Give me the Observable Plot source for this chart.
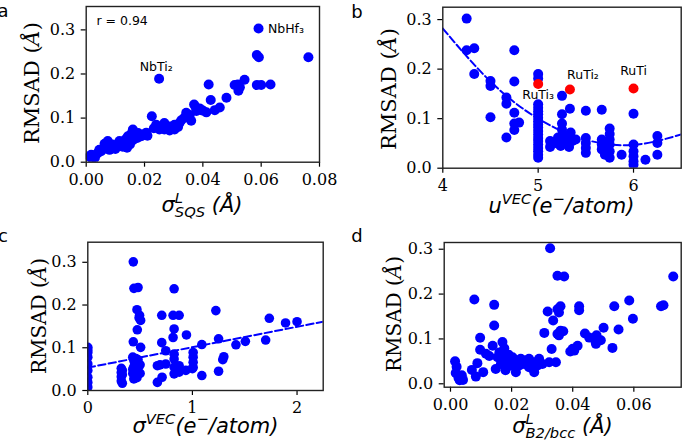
<!DOCTYPE html>
<html><head><meta charset="utf-8">
<script src="https://cdn.jsdelivr.net/npm/d3@7"></script>
<script src="https://cdn.jsdelivr.net/npm/@observablehq/plot@0.6"></script>
<style>
body{margin:0;background:#fff;}
#fig{position:relative;width:685px;height:443px;overflow:hidden;background:#fff}
#fig svg{position:absolute;overflow:visible}
</style></head><body><div id="fig"></div>
<script>
// ---- Panel a: RMSAD vs sigma^L_SQS ----
const aPoints = [[0.0591,0.303],[0.0585,0.243],[0.0592,0.238],[0.0762,0.238],[0.0250,0.189],[0.0420,0.176],[0.0543,0.187],[0.0509,0.175],[0.0520,0.176],[0.0527,0.170],[0.0522,0.162],[0.0585,0.175],[0.0600,0.175],[0.0632,0.176],[0.0427,0.141],[0.0481,0.146],[0.0458,0.124],[0.0441,0.118],[0.0370,0.131],[0.0375,0.125],[0.0389,0.122],[0.0400,0.117],[0.0378,0.116],[0.0412,0.113],[0.0343,0.112],[0.0355,0.107],[0.0337,0.101],[0.0326,0.095],[0.0360,0.094],[0.0225,0.104],[0.0240,0.085],[0.0268,0.089],[0.0286,0.081],[0.0303,0.085],[0.0320,0.089],[0.0315,0.080],[0.0251,0.074],[0.0268,0.074],[0.0286,0.072],[0.0303,0.074],[0.0232,0.077],[0.0206,0.067],[0.0189,0.059],[0.0172,0.056],[0.0160,0.074],[0.0155,0.065],[0.0143,0.059],[0.0149,0.047],[0.0131,0.040],[0.0114,0.048],[0.0109,0.036],[0.0097,0.032],[0.0080,0.028],[0.0074,0.048],[0.0063,0.042],[0.0069,0.032],[0.0051,0.025],[0.0040,0.021],[0.0017,0.017],[0.0011,0.013],[0.0020,0.008],[0.0120,0.045],[0.0135,0.052],[0.0165,0.062],[0.0178,0.066],[0.0195,0.063],[0.0210,0.060],[0.0125,0.035],[0.0090,0.040],[0.0100,0.030],[0.0060,0.030],[0.0035,0.018],[0.0150,0.040],[0.0160,0.050],[0.0175,0.055],[0.0140,0.033],[0.0030,0.010],[0.0045,0.028]];
const aStartLabels = [["NbHf\u2083",0.0623,0.293],["r = 0.94",0.0035,0.310]];
const aMidLabels = [["NbTi\u2082",0.0240,0.206]];
const aXTicks = [0,0.02,0.04,0.06,0.08];
const rmsadTicks = [0,0.1,0.2,0.3];

// ---- Panel b: RMSAD vs u^VEC ----
const bPoints = [[4.25,0.302],[4.25,0.238],[4.33,0.242],[4.75,0.238],[4.33,0.190],[4.5,0.176],[4.5,0.166],[4.75,0.175],[4.5,0.103],[4.667,0.1425],[4.667,0.130],[4.75,0.112],[4.75,0.090],[4.8,0.092],[4.75,0.077],[4.667,0.062],
[5,0.190],[5,0.181],[5,0.129],[5,0.122],[5,0.115],[5,0.109],[5,0.102],[5,0.095],[5,0.088],[5,0.082],[5,0.075],[5,0.068],[5,0.061],[5,0.055],[5,0.048],[5,0.041],[5,0.034],[5,0.027],[5,0.021],
[5.25,0.146],[5.333,0.120],[5.5,0.116],[5.667,0.118],[6,0.110],[5.25,0.109],[5.25,0.090],[5.25,0.078],[5.75,0.080],[5.75,0.069],[5.125,0.055],[5.125,0.043],
[5.208,0.062],[5.254,0.068],[5.306,0.065],[5.341,0.072],[5.289,0.055],[5.359,0.055],[5.236,0.045],[5.324,0.043],[5.394,0.058],[5.2,0.050],
[5.5,0.061],[5.5,0.051],[5.5,0.041],[5.5,0.031],[5.667,0.058],[5.667,0.048],[5.667,0.038],[5.7,0.027],[5.75,0.058],[5.75,0.048],[5.75,0.034],[5.75,0.021],[5.875,0.027],[6,0.048],[6,0.034],[6,0.024],[6,0.014],[6,0.007],[6.125,0.017],[6.25,0.065],[6.25,0.051],[6.25,0.027]];
const bRed = [[5,0.170],[5.333,0.159],[6,0.161]];
const bLabels = [["RuTi\u2083",5.0,0.1405],["RuTi\u2082",5.47,0.1796],["RuTi",6.0,0.188]];
const bFit = [[4,0.282],[4.5,0.175],[5,0.100],[5.5,0.0575],[6,0.047],[6.5,0.068]];
const bXTicks = [4,5,6];

// ---- Panel c: RMSAD vs sigma^VEC ----
const cPoints = [[0.435,0.301],[0.441,0.239],[0.48,0.241],[0.825,0.238],[0.47,0.189],[0.495,0.176],[0.505,0.164],[0.49,0.170],[0.707,0.176],[0.815,0.176],[0.873,0.176],[1.224,0.187],[0.473,0.142],[0.825,0.144],[0.815,0.124],[0.943,0.130],[1.735,0.169],[1.89,0.158],[2.0,0.161],[0.435,0.114],[0.505,0.101],[0.707,0.112],[1.25,0.121],[1.09,0.1075],[1.416,0.107],[1.506,0.115],[1.70,0.118],[0.745,0.093],[0.825,0.085],[0.825,0.0735],[1.007,0.089],[1.007,0.078],[1.007,0.066],[1.007,0.054],[1.30,0.079],[1.29,0.072],
[0,0.101],[0,0.095],[0,0.089],[0,0.078],[0,0.062],[0,0.047],[0,0.031],[0,0.019],[0,0.008],
[0.32,0.052],[0.32,0.042],[0.32,0.032],[0.32,0.022],[0.33,0.017],[0.33,0.047],[0.33,0.037],
[0.43,0.078],[0.44,0.070],[0.45,0.063],[0.47,0.058],[0.44,0.055],[0.46,0.048],[0.48,0.045],[0.43,0.040],[0.45,0.035],[0.47,0.030],[0.44,0.027],[0.50,0.060],[0.50,0.040],[0.48,0.072],[0.43,0.050],[0.46,0.075],
[0.665,0.058],[0.745,0.062],[0.665,0.019],[0.71,0.031],[0.69,0.060],
[0.825,0.0545],[0.873,0.058],[0.825,0.039],[0.873,0.043],[0.937,0.047],[1.0,0.051],[1.09,0.035],[1.25,0.045]];
const cFit = [[0,0.0535],[2.25,0.161]];
const cXTicks = [0,1,2];

// ---- Panel d: RMSAD vs sigma^L_B2/bcc ----
const dPoints = [[0.0326,0.302],[0.0350,0.241],[0.0372,0.239],[0.0729,0.239],[0.0078,0.188],[0.0143,0.176],[0.0143,0.130],[0.0318,0.161],[0.0350,0.166],[0.0360,0.173],[0.0355,0.159],[0.0336,0.141],[0.0421,0.173],[0.0421,0.164],[0.0536,0.173],[0.0585,0.1855],[0.0597,0.145],[0.0689,0.173],[0.0697,0.175],[0.0307,0.1135],[0.0350,0.111],[0.0360,0.118],[0.0369,0.117],[0.0355,0.108],[0.0440,0.112],[0.0454,0.103],[0.0478,0.108],[0.0492,0.097],[0.0475,0.093],[0.0501,0.125],[0.0550,0.121],[0.0476,0.089],[0.0530,0.080],[0.0392,0.072],[0.0405,0.074],[0.0416,0.085],[0.0400,0.078],[0.0331,0.0775],[0.0097,0.1025],[0.0097,0.076],[0.0116,0.067],[0.0138,0.085],[0.0170,0.093],[0.0176,0.079],[0.0088,0.046],[0.0127,0.062],[0.0015,0.050],[0.0020,0.038],[0.0017,0.024],[0.0026,0.0136],[0.0037,0.019],[0.0041,0.0087],[0.0030,0.008],[0.0070,0.031],[0.0083,0.016],[0.0107,0.026],
[0.0148,0.033],[0.0165,0.044],[0.0170,0.056],[0.0187,0.048],[0.0203,0.059],[0.0214,0.052],[0.0214,0.026],[0.0230,0.056],[0.0241,0.044],[0.0257,0.056],[0.0257,0.037],[0.0274,0.048],[0.0274,0.026],[0.0290,0.056],[0.0301,0.044],[0.0323,0.048],[0.0345,0.048],[0.0181,0.037],[0.0197,0.041],[0.0225,0.041],[0.0154,0.059],[0.0247,0.052],[0.0285,0.041],[0.0180,0.030],[0.0160,0.070],[0.0190,0.065]];
const dXTicks = [0,0.02,0.04,0.06];

const BLUE = "#0000ff", RED = "#ff0000";
const fig = document.getElementById("fig");

function panel(o) {
  const svg = Plot.plot({
    width: o.width, height: o.height,
    marginLeft: o.mL, marginRight: o.mR, marginTop: o.mT, marginBottom: o.mB,
    style: {fontFamily: "DejaVu Serif", fontSize: "16px", color: "#000", background: "transparent", overflow: "visible"},
    x: {domain: o.xDomain},
    y: {domain: o.yDomain},
    marks: [
      Plot.axisX(o.xTicks, {tickFormat: o.xFmt, tickSize: 5, tickPadding: 6, label: null, strokeWidth: 1.2}),
      Plot.axisY(rmsadTicks, {tickFormat: ".1f", tickSize: 5, tickPadding: 6, label: null, strokeWidth: 1.2}),
      ...o.marks,
      Plot.frame({stroke: "#222", strokeWidth: 1.4})
    ]
  });
  svg.style.left = o.left + "px";
  svg.style.top = o.top + "px";
  fig.appendChild(svg);
  const s = d3.select(svg);
  s.append("text").attr("x", o.letterX).attr("y", o.letterY)
    .attr("font-family", "DejaVu Sans").attr("font-size", 18).attr("fill", "#000").text(o.letter);
  const yl = s.append("text")
    .attr("transform", `translate(${o.ylX},${o.ylY}) rotate(-90)`)
    .attr("text-anchor", "middle").attr("font-family", "DejaVu Serif")
    .attr("font-size", o.ylSize).attr("fill", "#000");
  yl.append("tspan").text("RMSAD (");
  yl.append("tspan").attr("font-style", "italic").text("\u00C5");
  yl.append("tspan").text(")");
  const xl = s.append("text").attr("x", o.xlX).attr("y", o.xlY)
    .attr("text-anchor", "middle").attr("font-family", "DejaVu Sans")
    .attr("font-style", "italic").attr("font-size", o.xlSize).attr("fill", "#000");
  o.xLabel(xl, o.xlSize);
  return svg;
}

const dot = (pts, fill, r) => Plot.dot(pts, {x: d => d[0], y: d => d[1], r, fill, stroke: "none", clip: true});
const note = (rows, anchor) => Plot.text(rows, {x: d => d[1], y: d => d[2], text: d => d[0], textAnchor: anchor, lineAnchor: "bottom", fontFamily: "DejaVu Sans", fontSize: 12.5, fill: "#000"});

function supSub(t, base, sup, sub, tail, fs) {
  const ss = fs * 0.7;
  t.append("tspan").text(base);
  t.append("tspan").attr("font-size", ss).attr("dy", -fs * 0.42).text(sup);
  t.append("tspan").attr("font-size", ss).attr("dx", -ss * 0.557 * sup.length).attr("dy", fs * 0.68).text(sub);
  t.append("tspan").attr("dy", -fs * 0.26).text(tail);
}
function supVEC(t, base, fs) {
  const ss = fs * 0.7;
  t.append("tspan").text(base);
  t.append("tspan").attr("font-size", ss).attr("dy", -fs * 0.42).text("VEC");
  t.append("tspan").attr("dy", fs * 0.42).text("(e");
  t.append("tspan").attr("font-size", ss).attr("dy", -fs * 0.42).text("\u2212");
  t.append("tspan").attr("dy", fs * 0.42).text("/atom)");
}

// Panel a
panel({
  left: 0, top: 0, width: 340, height: 220, mL: 85.7, mR: 21, mT: 6, mB: 58.3,
  xDomain: [0, 0.08], yDomain: [0, 0.353], xTicks: aXTicks, xFmt: ".2f",
  letter: "a", letterX: 3, letterY: 17,
  ylX: 39, ylY: 83, ylSize: 21,
  xlX: 202, xlY: 212, xlSize: 21,
  xLabel: (t, fs) => supSub(t, "\u03C3", "L", "SQS", " (\u00C5)", fs),
  marks: [
    dot(aPoints, BLUE, 5),
    note(aStartLabels, "start"),
    note(aMidLabels, "middle")
  ]
});

// Panel b
panel({
  left: 340, top: 0, width: 345, height: 220, mL: 102.3, mR: 4.3, mT: 6.7, mB: 52.3,
  xDomain: [4, 6.5], yDomain: [0, 0.325], xTicks: bXTicks, xFmt: "d",
  letter: "b", letterX: 17, letterY: 18,
  ylX: 56, ylY: 89, ylSize: 21,
  xlX: 221.5, xlY: 213, xlSize: 21,
  xLabel: (t, fs) => supVEC(t, "u", fs),
  marks: [
    Plot.line(bFit, {x: d => d[0], y: d => d[1], curve: "natural", stroke: BLUE, strokeWidth: 2, strokeDasharray: "7.4,3.2", clip: true}),
    dot(bPoints, BLUE, 5),
    dot(bRed, RED, 5),
    note(bLabels, "middle")
  ]
});

// Panel c
panel({
  left: 0, top: 220, width: 340, height: 223, mL: 87.3, mR: 17.3, mT: 21.7, mB: 53,
  xDomain: [0, 2.25], yDomain: [0, 0.347], xTicks: cXTicks, xFmt: "d",
  letter: "c", letterX: 3, letterY: 22,
  ylX: 46, ylY: 96, ylSize: 20,
  xlX: 205.5, xlY: 213, xlSize: 21,
  xLabel: (t, fs) => supVEC(t, "\u03C3", fs),
  marks: [
    Plot.line(cFit, {x: d => d[0], y: d => d[1], stroke: BLUE, strokeWidth: 2, strokeDasharray: "7.4,3.2", clip: true}),
    dot(cPoints, BLUE, 4.8)
  ]
});

// Panel d
panel({
  left: 340, top: 220, width: 345, height: 223, mL: 103.7, mR: 4.3, mT: 22, mB: 56.3,
  xDomain: [-0.00206, 0.0755], yDomain: [-0.0076, 0.315], xTicks: dXTicks, xFmt: ".2f",
  letter: "d", letterX: 17, letterY: 22,
  ylX: 61, ylY: 94, ylSize: 20,
  xlX: 222.5, xlY: 213, xlSize: 21,
  xLabel: (t, fs) => supSub(t, "\u03C3", "L", "B2/bcc", " (\u00C5)", fs),
  marks: [
    dot(dPoints, BLUE, 5)
  ]
});
</script>
</body></html>
